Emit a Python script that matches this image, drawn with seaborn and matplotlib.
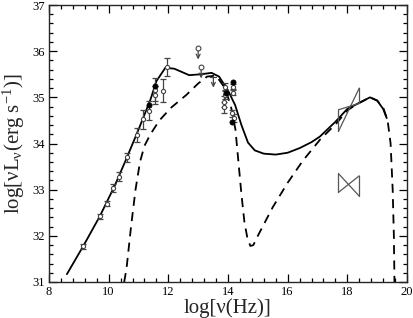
import numpy as np
import pandas as pd
import matplotlib
matplotlib.use("Agg")
import matplotlib.pyplot as plt
import seaborn as sns

# ---- data ----
solid_x = [8.6, 9.15, 9.7, 10.2, 10.6, 11.0, 11.4, 11.6, 11.9, 12.2, 12.7, 13.1, 13.45, 13.7,
           14.0, 14.24, 14.45, 14.67, 14.9, 15.2, 15.6, 16.0, 16.4, 16.8, 17.08, 17.6, 18.0, 18.4,
           18.76, 19.0, 19.2, 19.32]
solid_y = [31.17, 31.78, 32.42, 33.08, 33.68, 34.3, 34.95, 35.35, 35.64, 35.62, 35.48, 35.5, 35.53, 35.45,
           35.15, 34.83, 34.4, 34.02, 33.85, 33.78, 33.76, 33.8, 33.9, 34.03, 34.15, 34.47, 34.75, 34.88,
           35.0, 34.93, 34.75, 34.55]

dash_x = [10.52, 10.6, 10.75, 10.9, 11.05, 11.2, 11.4, 11.7, 12.1, 12.6, 13.0, 13.3, 13.6, 13.9,
          14.1, 14.25, 14.35, 14.45, 14.55, 14.65, 14.75, 14.85, 15.0, 15.5, 16.0, 16.5, 17.08,
          17.64, 18.0, 18.4, 18.76, 19.0, 19.2, 19.35, 19.45, 19.52, 19.56, 19.58]
dash_y = [31.0, 31.3, 32.2, 33.0, 33.6, 33.95, 34.2, 34.5, 34.78, 35.05, 35.3, 35.45, 35.47, 35.2,
          34.8, 34.3, 33.6, 32.9, 32.3, 31.95, 31.78, 31.8, 32.0, 32.62, 33.15, 33.62, 34.08,
          34.44, 34.72, 34.88, 35.0, 34.93, 34.78, 34.5, 34.0, 33.0, 32.0, 31.0]

open_x = [9.15, 9.71, 9.93, 10.16, 10.36, 10.60, 10.96, 11.16, 11.36, 11.55, 11.55, 11.83, 11.94,
          13.90, 13.90, 13.88, 13.88, 14.17, 14.17, 14.15, 14.19]
open_y = [31.77, 32.42, 32.70, 33.04, 33.28, 33.70, 34.18, 34.52, 34.71, 35.16, 35.05, 35.14, 35.66,
          35.23, 35.05, 34.90, 34.78, 35.23, 35.10, 34.65, 34.55]
open_err = [0.05, 0.06, 0.06, 0.08, 0.1, 0.1, 0.15, 0.2, 0.2, 0.25, 0.2, 0.25, 0.2,
            0.08, 0.08, 0.12, 0.12, 0.06, 0.06, 0.08, 0.08]

filled_x = [11.36, 11.55, 13.92, 14.16, 14.14]
filled_y = [34.83, 35.25, 35.09, 35.34, 34.47]

ul_x = [13.0, 13.1]
ul_y = [36.06, 35.65]
arrow_x = [13.51]
arrow_y = [35.45]
ul_len = 0.24

bow1_x = [17.70, 18.40]
bow1_lo = [34.26, 34.87]
bow1_hi = [34.73, 35.20]
bow2_x = [17.70, 18.40]
bow2_lo = [32.94, 32.86]
bow2_hi = [33.35, 33.30]

x_ticks = [8, 10, 12, 14, 16, 18, 20]
y_ticks = [31, 32, 33, 34, 35, 36, 37]

# ---- style ----
sns.set_style("ticks")
plt.rcParams['font.family'] = ['Liberation Serif', 'DejaVu Serif']
plt.rcParams['mathtext.fontset'] = 'custom'
plt.rcParams['mathtext.rm'] = 'Liberation Serif'
plt.rcParams['mathtext.it'] = 'Liberation Serif:italic'

fig = plt.figure(figsize=(4.14, 3.18), dpi=100)
ax = fig.add_axes([49/414, 1-282/318, (407-49)/414, (282-5)/318])

df_s = pd.DataFrame({'x': solid_x, 'y': solid_y})
df_d = pd.DataFrame({'x': dash_x, 'y': dash_y})
sns.lineplot(data=df_s, x='x', y='y', ax=ax, color='black', lw=1.3, sort=False, estimator=None)
sns.lineplot(data=df_d, x='x', y='y', ax=ax, color='black', lw=1.3, sort=False, estimator=None,
             linestyle=(0, (5, 3.5)))

ax.errorbar(open_x, open_y, yerr=open_err, fmt='none', ecolor='#444444', elinewidth=0.9,
            capsize=2, capthick=0.9, zorder=3)
df_o = pd.DataFrame({'x': open_x, 'y': open_y})
sns.scatterplot(data=df_o, x='x', y='y', ax=ax, s=9, facecolor='white', edgecolor='#444444',
                linewidth=0.8, zorder=4)
df_f = pd.DataFrame({'x': filled_x, 'y': filled_y})
sns.scatterplot(data=df_f, x='x', y='y', ax=ax, s=14, color='black', edgecolor='black',
                linewidth=0.5, zorder=5)

# upper limits
df_u = pd.DataFrame({'x': ul_x, 'y': ul_y})
sns.scatterplot(data=df_u, x='x', y='y', ax=ax, s=12, facecolor='white', edgecolor='#444444',
                linewidth=0.8, zorder=4)
for xx, yy in zip(ul_x, ul_y):
    ax.annotate('', xy=(xx, yy - ul_len), xytext=(xx, yy - 0.04),
                arrowprops=dict(arrowstyle='->', color='#444444', lw=0.9, shrinkA=0, shrinkB=0,
                                mutation_scale=7))
for xx, yy in zip(arrow_x, arrow_y):
    ax.plot([xx - 0.1, xx + 0.1], [yy, yy], color='#444444', lw=0.9)
    ax.annotate('', xy=(xx, yy - ul_len), xytext=(xx, yy),
                arrowprops=dict(arrowstyle='->', color='#444444', lw=0.9, shrinkA=0, shrinkB=0,
                                mutation_scale=7))

# bowties
for bx, lo, hi in [(bow1_x, bow1_lo, bow1_hi), (bow2_x, bow2_lo, bow2_hi)]:
    ax.plot([bx[0], bx[0]], [lo[0], hi[0]], color='#555555', lw=0.9)
    ax.plot([bx[1], bx[1]], [lo[1], hi[1]], color='#555555', lw=0.9)
    ax.plot([bx[0], bx[1]], [hi[0], lo[1]], color='#555555', lw=0.9)
    ax.plot([bx[0], bx[1]], [lo[0], hi[1]], color='#555555', lw=0.9)

ax.set_xlim(8, 20)
ax.set_ylim(31, 37)
ax.set_xticks(x_ticks)
ax.set_yticks(y_ticks)
ax.set_xticks(np.arange(8, 20.01, 0.4), minor=True)
ax.set_yticks(np.arange(31, 37.01, 0.2), minor=True)
ax.tick_params(which='both', direction='in', top=True, right=True, labelsize=9, width=0.9,
               colors='black', pad=3)
ax.tick_params(which='major', length=6)
ax.tick_params(which='minor', length=3)
for sp in ax.spines.values():
    sp.set_linewidth(1.0)
    sp.set_visible(True)

ax.set_xlabel(r'log[ν(Hz)]', fontsize=15, labelpad=0)
ax.set_ylabel(r'log[νL$_{\mathrm{ν}}$(erg s$^{\mathrm{ -1}}$)]', fontsize=15, labelpad=4)

fig.savefig('out.png', dpi=100)
